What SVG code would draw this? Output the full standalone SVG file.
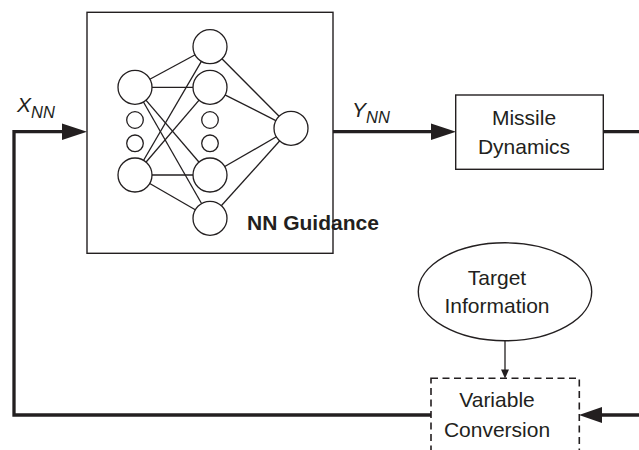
<svg xmlns="http://www.w3.org/2000/svg" width="639" height="450" viewBox="0 0 639 450">
<style>
text{font-family:"Liberation Sans",Arial,sans-serif;font-size:21px;fill:#231f20}
.box{fill:#fff;stroke:#231f20;stroke-width:1.4}
.thick{fill:none;stroke:#231f20;stroke-width:3.3}
.nl{stroke:#231f20;stroke-width:1.3}
.nc{fill:#fff;stroke:#231f20;stroke-width:1.3}
.ah{fill:#231f20}
</style>
<rect width="639" height="450" fill="#fff"/>
<g id="connectors">
<path class="thick" d="M333 131.7H434"/>
<polygon class="ah" points="456,131.7 431,123.5 431,140"/>
<path class="thick" d="M603.3 131.7H645V415H600"/>
<polygon class="ah" points="579,415 602,407 602,423"/>
<path class="thick" d="M431 415H14V131.7H65"/>
<polygon class="ah" points="87,131.7 62,123.5 62,140"/>
<line x1="505" y1="341" x2="505" y2="371" stroke="#231f20" stroke-width="1.3"/>
<polygon class="ah" points="505,378.5 501,369.5 509,369.5"/>
</g>
<g id="labels">
<text x="17" y="112" font-style="italic">X<tspan font-size="16.5" dy="6">NN</tspan></text>
<text x="352" y="116.5" font-style="italic">Y<tspan font-size="16.5" dy="6">NN</tspan></text>
</g>
<g id="nn-guidance">
<rect class="box" x="87" y="12.3" width="246" height="241"/>
<g>
<line class="nl" x1="135" y1="87.3" x2="210" y2="46.7"/>
<line class="nl" x1="135" y1="87.3" x2="210" y2="87.3"/>
<line class="nl" x1="135" y1="87.3" x2="210" y2="175"/>
<line class="nl" x1="135" y1="87.3" x2="210" y2="218.3"/>
<line class="nl" x1="135" y1="175" x2="210" y2="46.7"/>
<line class="nl" x1="135" y1="175" x2="210" y2="87.3"/>
<line class="nl" x1="135" y1="175" x2="210" y2="175"/>
<line class="nl" x1="135" y1="175" x2="210" y2="218.3"/>
<line class="nl" x1="210" y1="46.7" x2="291" y2="128.3"/>
<line class="nl" x1="210" y1="87.3" x2="291" y2="128.3"/>
<line class="nl" x1="210" y1="175" x2="291" y2="128.3"/>
<line class="nl" x1="210" y1="218.3" x2="291" y2="128.3"/>
</g>
<circle class="nc" cx="135" cy="87.3" r="17"/>
<circle class="nc" cx="135" cy="120" r="8.3"/>
<circle class="nc" cx="135" cy="143.3" r="8.3"/>
<circle class="nc" cx="135" cy="175" r="17"/>
<circle class="nc" cx="210" cy="46.7" r="17"/>
<circle class="nc" cx="210" cy="87.3" r="17"/>
<circle class="nc" cx="210" cy="120" r="8.3"/>
<circle class="nc" cx="210" cy="143.3" r="8.3"/>
<circle class="nc" cx="210" cy="175" r="17"/>
<circle class="nc" cx="210" cy="218.3" r="17"/>
<circle class="nc" cx="291" cy="128.3" r="17"/>
<text x="247" y="230" font-weight="bold">NN Guidance</text>
</g>
<g id="missile-dynamics">
<rect class="box" x="455.7" y="95" width="147.6" height="74.3"/>
<text x="524" y="125" text-anchor="middle">Missile</text>
<text x="524" y="154" text-anchor="middle">Dynamics</text>
</g>
<g id="target-information">
<ellipse class="box" cx="505" cy="291.8" rx="86.7" ry="49"/>
<text x="497" y="285" text-anchor="middle">Target</text>
<text x="497" y="313.3" text-anchor="middle">Information</text>
</g>
<g id="variable-conversion">
<rect x="431" y="378.3" width="148.3" height="90" fill="none" stroke="#231f20" stroke-width="1.6" stroke-dasharray="7,4.5"/>
<text x="497" y="406.7" text-anchor="middle">Variable</text>
<text x="497" y="436.7" text-anchor="middle">Conversion</text>
</g>
</svg>
